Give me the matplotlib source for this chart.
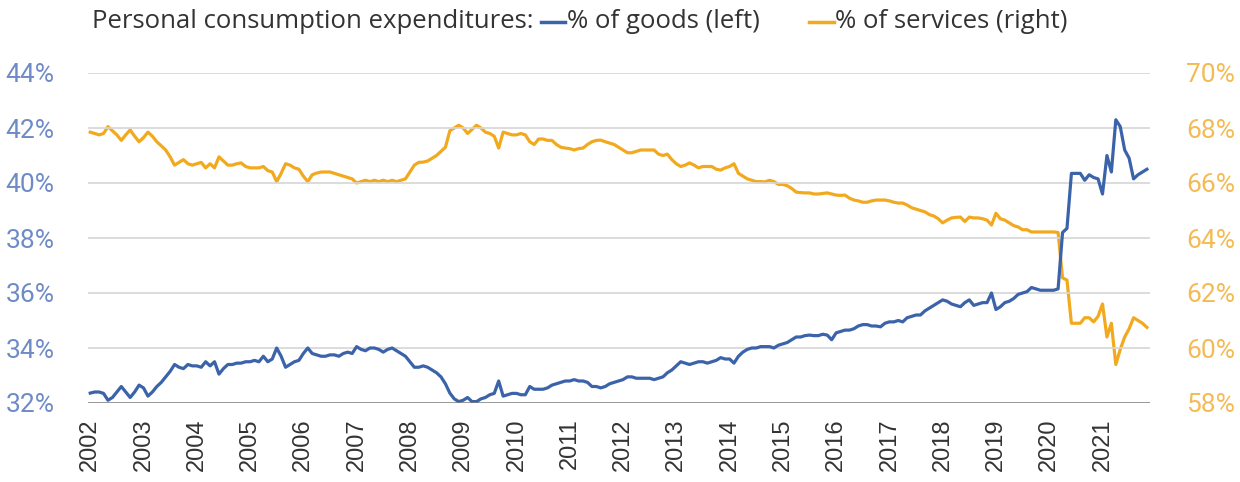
import numpy as np
import matplotlib
matplotlib.use('Agg')
import matplotlib.pyplot as plt

# monthly shares of PCE, Jan 2002 - Nov 2021
goods = [
    32.36, 32.40, 32.40, 32.35, 32.10, 32.20, 32.40, 32.60, 32.40, 32.20, 32.40, 32.65,  # 2002
    32.55, 32.25, 32.40, 32.60, 32.75, 32.95, 33.15, 33.40, 33.30, 33.25, 33.40, 33.35,  # 2003
    33.35, 33.30, 33.50, 33.35, 33.50, 33.05, 33.25, 33.40, 33.40, 33.45, 33.45, 33.50,  # 2004
    33.50, 33.55, 33.50, 33.70, 33.50, 33.60, 34.00, 33.70, 33.30, 33.40, 33.50, 33.55,  # 2005
    33.80, 34.00, 33.80, 33.75, 33.70, 33.70, 33.75, 33.75, 33.70, 33.80, 33.85, 33.80,  # 2006
    34.05, 33.95, 33.90, 34.00, 34.00, 33.95, 33.85, 33.95, 34.00, 33.90, 33.80, 33.70,  # 2007
    33.50, 33.30, 33.30, 33.35, 33.30, 33.20, 33.10, 32.95, 32.70, 32.36, 32.15, 32.05,  # 2008
    32.10, 32.20, 32.05, 32.05, 32.15, 32.20, 32.30, 32.35, 32.80, 32.25, 32.30, 32.35,  # 2009
    32.35, 32.30, 32.30, 32.60, 32.50, 32.50, 32.50, 32.55, 32.65, 32.70, 32.75, 32.80,  # 2010
    32.80, 32.85, 32.80, 32.80, 32.75, 32.60, 32.60, 32.55, 32.60, 32.70, 32.75, 32.80,  # 2011
    32.85, 32.95, 32.95, 32.90, 32.90, 32.90, 32.90, 32.85, 32.90, 32.95, 33.10, 33.20,  # 2012
    33.35, 33.50, 33.45, 33.40, 33.45, 33.50, 33.50, 33.45, 33.50, 33.55, 33.65, 33.60,  # 2013
    33.60, 33.45, 33.70, 33.85, 33.95, 34.00, 34.00, 34.05, 34.05, 34.05, 34.00, 34.10,  # 2014
    34.15, 34.20, 34.30, 34.40, 34.40, 34.45, 34.47, 34.45, 34.45, 34.50, 34.47, 34.30,  # 2015
    34.55, 34.60, 34.65, 34.65, 34.70, 34.80, 34.85, 34.85, 34.80, 34.80, 34.77, 34.90,  # 2016
    34.95, 34.95, 35.00, 34.95, 35.10, 35.15, 35.20, 35.20, 35.35, 35.45, 35.55, 35.65,  # 2017
    35.75, 35.70, 35.60, 35.55, 35.50, 35.65, 35.75, 35.55, 35.60, 35.65, 35.65, 36.00,  # 2018
    35.40, 35.50, 35.65, 35.70, 35.80, 35.95, 36.00, 36.05, 36.20, 36.15, 36.10, 36.10,  # 2019
    36.10, 36.10, 36.15, 38.20, 38.35, 40.35, 40.35, 40.35, 40.10, 40.30, 40.20, 40.15,  # 2020
    39.60, 41.00, 40.40, 42.30, 42.05, 41.20, 40.90, 40.15, 40.30, 40.40, 40.50,         # 2021
]

services = [
    67.85, 67.80, 67.75, 67.80, 68.05, 67.90, 67.75, 67.55, 67.75, 67.93, 67.70, 67.50,  # 2002
    67.65, 67.85, 67.70, 67.50, 67.35, 67.20, 66.95, 66.65, 66.75, 66.85, 66.70, 66.65,  # 2003
    66.70, 66.75, 66.55, 66.70, 66.55, 66.95, 66.80, 66.65, 66.65, 66.70, 66.73, 66.60,  # 2004
    66.55, 66.55, 66.55, 66.60, 66.45, 66.40, 66.05, 66.35, 66.70, 66.65, 66.55, 66.50,  # 2005
    66.25, 66.05, 66.30, 66.36, 66.40, 66.40, 66.40, 66.35, 66.30, 66.25, 66.20, 66.15,  # 2006
    66.00, 66.05, 66.10, 66.05, 66.10, 66.05, 66.10, 66.05, 66.10, 66.05, 66.10, 66.15,  # 2007
    66.40, 66.65, 66.75, 66.76, 66.80, 66.90, 67.00, 67.15, 67.30, 67.90, 68.00, 68.10,  # 2008
    68.00, 67.80, 67.95, 68.10, 68.00, 67.85, 67.80, 67.70, 67.27, 67.85, 67.80, 67.75,  # 2009
    67.75, 67.80, 67.75, 67.50, 67.40, 67.60, 67.60, 67.55, 67.55, 67.40, 67.30, 67.27,  # 2010
    67.25, 67.20, 67.25, 67.27, 67.40, 67.50, 67.55, 67.56, 67.50, 67.45, 67.40, 67.30,  # 2011
    67.20, 67.10, 67.10, 67.15, 67.20, 67.20, 67.20, 67.20, 67.05, 67.00, 67.05, 66.85,  # 2012
    66.70, 66.60, 66.65, 66.73, 66.65, 66.55, 66.60, 66.60, 66.60, 66.50, 66.47, 66.55,  # 2013
    66.60, 66.70, 66.35, 66.25, 66.15, 66.10, 66.05, 66.05, 66.04, 66.10, 66.05, 65.95,  # 2014
    65.95, 65.90, 65.80, 65.67, 65.65, 65.64, 65.64, 65.60, 65.60, 65.62, 65.64, 65.60,  # 2015
    65.56, 65.55, 65.56, 65.45, 65.38, 65.35, 65.30, 65.30, 65.35, 65.38, 65.38, 65.38,  # 2016
    65.35, 65.30, 65.27, 65.27, 65.20, 65.10, 65.05, 65.00, 64.95, 64.85, 64.80, 64.70,  # 2017
    64.55, 64.65, 64.73, 64.75, 64.76, 64.60, 64.76, 64.73, 64.73, 64.70, 64.65, 64.47,  # 2018
    64.90, 64.70, 64.65, 64.55, 64.45, 64.40, 64.30, 64.30, 64.22, 64.22, 64.22, 64.22,  # 2019
    64.22, 64.22, 64.20, 62.55, 62.47, 60.90, 60.90, 60.90, 61.10, 61.10, 60.95, 61.15,  # 2020
    61.60, 60.40, 60.90, 59.40, 59.95, 60.40, 60.70, 61.10, 61.00, 60.90, 60.75,         # 2021
]

years = list(range(2002, 2022))
left_ticks = [32, 34, 36, 38, 40, 42, 44]
right_ticks = [58, 60, 62, 64, 66, 68, 70]

blue = '#3b63aa'
orange = '#f2a91e'

fig = plt.figure(figsize=(12.4, 4.82), dpi=100)
ax = fig.add_axes([88 / 1240, 79 / 482, 1062 / 1240, 330 / 482])
ax2 = ax.twinx()

months = np.arange(len(goods))
ax2.plot(months, services, color=orange, lw=2.3, solid_joinstyle='round')
ax.plot(months, goods, color=blue, lw=2.3, solid_joinstyle='round')
ax.set_zorder(ax2.get_zorder() + 1)
ax.patch.set_visible(False)

ax.set_xlim(-0.5, 238.7)
ax.set_ylim(32, 44)
ax2.set_ylim(58, 70)

# gridlines
for v in left_ticks[1:]:
    ax.axhline(v, color='#d6d6d6', lw=1.2, zorder=0)
ax.axhline(32, color='#7a7a7a', lw=1.8, zorder=3)

for a in (ax, ax2):
    for s in a.spines.values():
        s.set_visible(False)

ax.set_xticks([12 * i for i in range(len(years))])
ax.set_xticklabels([str(y) for y in years], rotation=90, fontsize=17,
                   family='Liberation Sans', color='#333333')
ax.tick_params(axis='x', length=0, pad=11)

ax.set_yticks(left_ticks)
ax.set_yticklabels([f'{v}%' for v in left_ticks], fontsize=19, family='Roboto',
                   color='#6f8bc6')
ax.tick_params(axis='y', length=0, pad=24)

ax2.set_yticks(right_ticks)
ax2.set_yticklabels([f'{v}%' for v in right_ticks], fontsize=19, family='Roboto',
                    color='#f4bb55')
ax2.tick_params(axis='y', length=0, pad=26)

# title / legend row
ty = 1 - 22 / 482
title_font = dict(fontsize=18.5, family='Open Sans', color='#333333', va='center')
fig.text(92 / 1240, ty, 'Personal consumption expenditures:', **title_font)
fig.add_artist(plt.Line2D([541 / 1240, 565 / 1240], [ty, ty], color=blue, lw=2.5))
fig.text(567 / 1240, ty, '% of goods (left)', **title_font)
fig.add_artist(plt.Line2D([809 / 1240, 834 / 1240], [ty, ty], color=orange, lw=2.5))
fig.text(835 / 1240, ty, '% of services (right)', **title_font)

plt.savefig('out.png', dpi=100)
